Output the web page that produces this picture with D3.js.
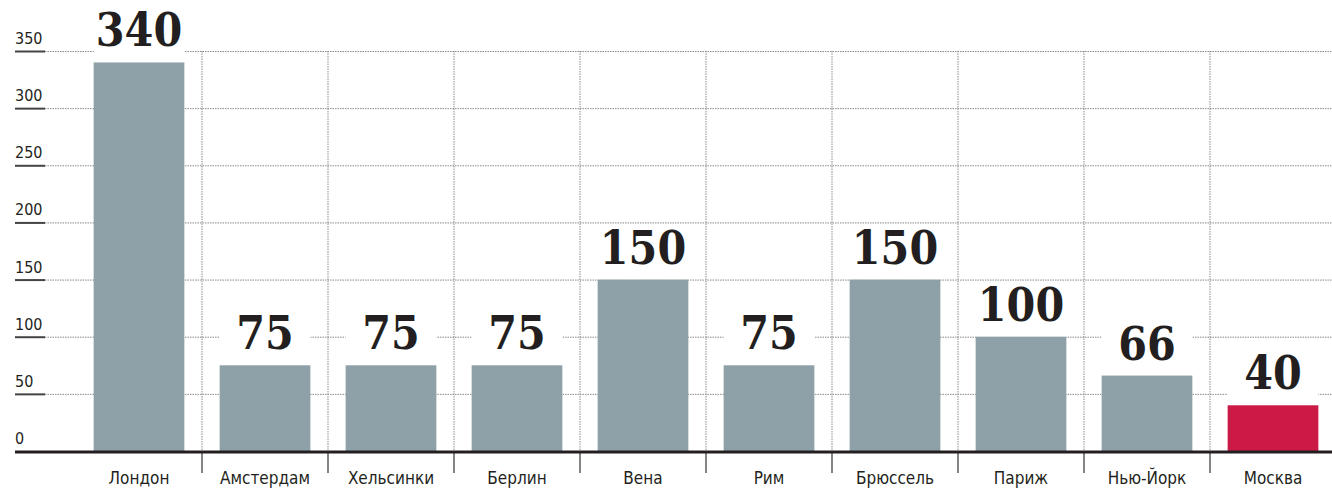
<!DOCTYPE html>
<html>
<head>
<meta charset="utf-8">
<script src="https://cdn.jsdelivr.net/npm/d3@7"></script>
<style>
  body { margin: 0; background: #fff; }
  .tick-label { font-family: "DejaVu Sans Condensed", "Liberation Sans Narrow", "DejaVu Sans", sans-serif; font-stretch: condensed; }
  .value { font-family: "DejaVu Serif Condensed", "DejaVu Serif", serif; font-stretch: condensed; font-weight: bold; }
</style>
</head>
<body>
<div class="svg"></div>
<script>
//Config
var width = 1332,
    height = 495,
    margin = { top : 51, bottom : 44, right : -4, left : 76 };

//Data
var cities = ["Лондон", "Амстердам", "Хельсинки", "Берлин", "Вена", "Рим", "Брюссель", "Париж", "Нью-Йорк", "Москва"];
var prices = [340, 75, 75, 75, 150, 75, 150, 100, 66, 40];
var yTicks = [0, 50, 100, 150, 200, 250, 300, 350];
var highlight = "Москва";

var svg = d3.select(".svg")
    .append("svg")
    .attr("width", width)
    .attr("height", height);

var x = d3.scaleBand()
    .domain(cities)
    .range([margin.left, width - margin.right])
    .paddingInner(0.28)
    .paddingOuter(0.14);

var y = d3.scaleLinear()
    .domain([0, 350])
    .range([height - margin.bottom, margin.top]);

var step = x.step();

//Grid lines (dotted)
var grid = svg.append("g");
grid.selectAll(".hgrid")
  .data(yTicks.filter(function (d) { return d > 0; }))
  .enter()
  .append("line")
  .attr("x1", 45)
  .attr("x2", width)
  .attr("y1", function (d) { return y(d) + 0.5; })
  .attr("y2", function (d) { return y(d) + 0.5; })
  .style("stroke", "#8a8a8a")
  .style("stroke-width", "1px")
  .style("stroke-dasharray", "1.5,1");

//Vertical dividers between categories
grid.selectAll(".vgrid")
  .data(cities.slice(1))
  .enter()
  .append("line")
  .attr("x1", function (d) { return x(d) - x.padding() * step / 2 - (x.step() - x.bandwidth()) / 2 + (x.step() - x.bandwidth()) / 2; })
  .attr("x2", function (d) { return x(d) - x.padding() * step / 2 - (x.step() - x.bandwidth()) / 2 + (x.step() - x.bandwidth()) / 2; })
  .attr("y1", y(350))
  .attr("y2", y(0))
  .style("stroke", "#8a8a8a")
  .style("stroke-width", "1px")
  .style("stroke-dasharray", "1.5,1");

//Divider ticks below baseline
grid.selectAll(".vtick")
  .data(cities.slice(1))
  .enter()
  .append("line")
  .attr("x1", function (d) { return x(d) - (step - x.bandwidth()) / 2; })
  .attr("x2", function (d) { return x(d) - (step - x.bandwidth()) / 2; })
  .attr("y1", y(0))
  .attr("y2", y(0) + 22)
  .style("stroke", "#333")
  .style("stroke-width", "1.2px");

grid.selectAll(".vgrid").each(function (d) {
  var xx = x(d) - (step - x.bandwidth()) / 2;
  d3.select(this).attr("x1", xx).attr("x2", xx);
});

//Y axis labels with short underline
var yAxis = svg.append("g");
yAxis.selectAll(".ylab")
  .data(yTicks)
  .enter()
  .append("text")
  .classed("tick-label", true)
  .attr("x", 15)
  .attr("y", function (d) { return y(d) - 7; })
  .style("font-size", "16px")
  .style("fill", "#231f20")
  .text(function (d) { return d; });

yAxis.selectAll(".yline")
  .data(yTicks.filter(function (d) { return d > 0; }))
  .enter()
  .append("line")
  .attr("x1", 15)
  .attr("x2", 45)
  .attr("y1", function (d) { return y(d) + 0.5; })
  .attr("y2", function (d) { return y(d) + 0.5; })
  .style("stroke", "#444")
  .style("stroke-width", "2px");

//Bars
var bars = svg.append("g");
var data = cities.map(function (c, i) { return { city : c, value : prices[i] }; });

//White knockouts behind value labels
bars.selectAll(".knock")
  .data(data)
  .enter()
  .append("rect")
  .attr("x", function (d) { return x(d.city); })
  .attr("width", x.bandwidth())
  .attr("y", function (d) { return y(d.value) - 52; })
  .attr("height", 52)
  .style("fill", "#fff");

bars.selectAll(".bar")
  .data(data)
  .enter()
  .append("rect")
  .attr("x", function (d) { return x(d.city); })
  .attr("width", x.bandwidth())
  .attr("y", function (d) { return y(d.value); })
  .attr("height", function (d) { return y(0) - y(d.value); })
  .style("fill", function (d) { return d.city === highlight ? "#cc1a47" : "#8ea1a8"; });

bars.selectAll(".value")
  .data(data)
  .enter()
  .append("text")
  .classed("value", true)
  .attr("x", function (d) { return x(d.city) + x.bandwidth() / 2; })
  .attr("y", function (d) { return y(d.value) - 16; })
  .style("text-anchor", "middle")
  .style("font-size", "46px")
  .style("fill", "#231f20")
  .text(function (d) { return d.value; });

//Baseline
svg.append("line")
  .attr("x1", 15)
  .attr("x2", width)
  .attr("y1", y(0) + 1)
  .attr("y2", y(0) + 1)
  .style("stroke", "#231f20")
  .style("stroke-width", "3px");

//City labels
svg.append("g")
  .selectAll(".city")
  .data(cities)
  .enter()
  .append("text")
  .classed("tick-label", true)
  .attr("x", function (d) { return x(d) + x.bandwidth() / 2; })
  .attr("y", y(0) + 33)
  .style("text-anchor", "middle")
  .style("font-size", "17px")
  .style("fill", "#231f20")
  .text(function (d) { return d; });
</script>
</body>
</html>
